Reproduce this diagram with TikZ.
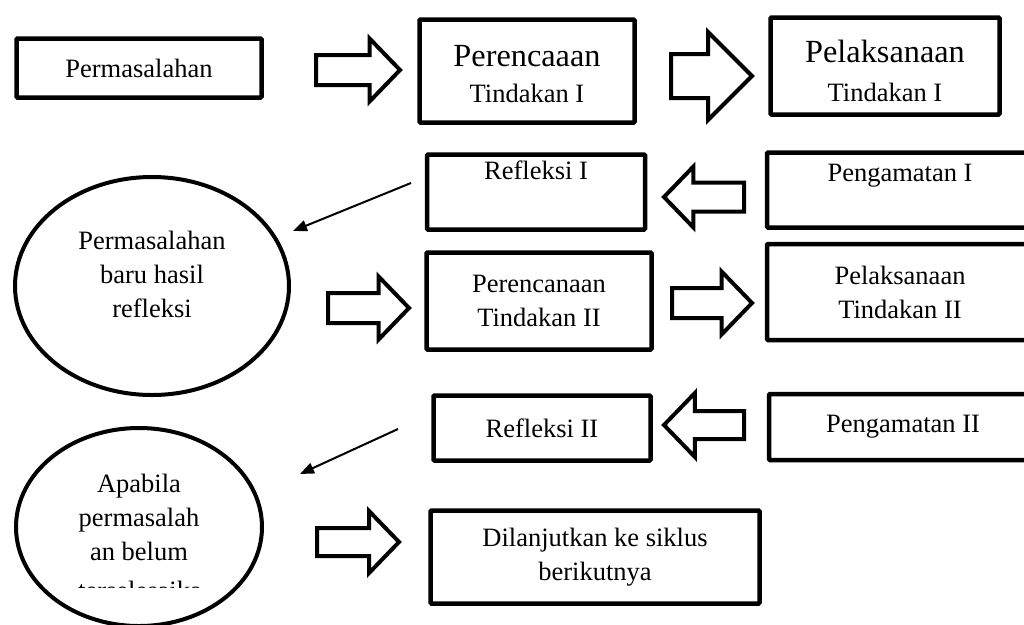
\documentclass[tikz,border=0pt]{standalone}
\usepackage{fontspec}
\setmainfont{Liberation Serif}
\usepackage{tikz}
\usetikzlibrary{arrows.meta, shapes.geometric, shapes.arrows}

\newcommand{\fsnormal}{\fontsize{26.5}{34}\selectfont}
\newcommand{\fsbesar}{\fontsize{32.3}{38}\selectfont}

\begin{document}
\begin{tikzpicture}[
        x=1pt, y=-1pt,
        >={Triangle[length=14pt, width=11pt]},
        kotak/.style={draw, line width=4.5pt, rounded corners=1pt, align=center, inner sep=2pt, font=\fsnormal},
        oval/.style={ellipse, draw, line width=4pt, align=center, inner sep=0pt, font=\fsnormal},
        blk/.style={single arrow, draw, line width=4pt, inner xsep=0pt, inner ysep=13pt, minimum height=80pt,
            single arrow head extend=16.5pt, single arrow tip angle=92, anchor=tail},
        kiri/.style={blk, shape border rotate=180},
        tipis/.style={->, line width=2pt}
    ]
        \useasboundingbox (0,0) rectangle (1024,624);

        % siklus I
        \node[kotak, minimum width=245pt, minimum height=59pt] (masalah) at (139,68) {Permasalahan};
        \node[kotak, minimum width=215pt, minimum height=103pt] (renc1) at (527,71) {{\fsbesar\rule{0pt}{28pt}Perencaaan}\\[2pt]Tindakan I};
        \node[kotak, minimum width=229pt, minimum height=97pt] (laks1) at (885,66) {{\fsbesar\rule{0pt}{32pt}Pelaksanaan}\\[5pt]Tindakan I};
        \node[kotak, minimum width=218pt, minimum height=75pt] (refl1) at (536,192) {Refleksi I\\\strut};
        \node[kotak, minimum width=266pt, minimum height=75pt] (amat1) at (900,190) {Pengamatan I\\\mbox{}};

        \node[blk, minimum height=84pt] (p1) at (314,70) {};
        \node[blk, minimum height=81pt, inner ysep=20pt, single arrow head extend=22pt, single arrow tip angle=90] (p2) at (669,76) {};
        \node[kiri, inner ysep=12.5pt, single arrow head extend=16pt] (p3) at (746,197) {};

        % siklus II
        \node[oval, minimum width=274pt, minimum height=218pt, text depth=24pt] (baru) at (152,286) {Permasalahan\\baru hasil\\refleksi};
        \node[kotak, minimum width=225pt, minimum height=97pt] (renc2) at (539,301) {Perencanaan\\Tindakan II};
        \node[kotak, minimum width=266pt, minimum height=96pt] (laks2) at (900,292) {Pelaksanaan\\Tindakan II};
        \node[kotak, minimum width=217pt, minimum height=65pt] (refl2) at (542,428) {Refleksi II};
        \node[kotak, minimum width=268pt, minimum height=66pt] (amat2) at (903,427) {Pengamatan II};

        \node[blk, minimum height=81pt] (p4) at (326,308) {};
        \node[blk] (p5) at (670,303) {};
        \node[kiri, inner ysep=12pt, single arrow head extend=18pt] (p6) at (746,425) {};

        \coordinate (t1a) at (411,183);
        \coordinate (t1b) at (293,231);
        \draw[tipis] (t1a) -- (t1b);

        % lanjut
        \node[oval, minimum width=246pt, minimum height=198pt, text depth=20pt] (belum) at (139,527) {Apabila\\permasalah\\an belum};
        \begin{scope}
            \clip (20,565) rectangle (260,587);
            \node[font=\fsnormal, anchor=base, inner sep=0pt] (sisa) at (140,599) {terselesaika};
        \end{scope}
        \node[kotak, minimum width=329pt, minimum height=93pt] (lanjut) at (595,557) {Dilanjutkan ke siklus\\berikutnya};

        \node[blk, minimum height=82pt, inner ysep=12pt, single arrow head extend=17pt] (p7) at (315,542) {};

        \coordinate (t2a) at (398,429);
        \coordinate (t2b) at (300,474);
        \draw[tipis] (t2a) -- (t2b);
    \end{tikzpicture}
\end{document}
